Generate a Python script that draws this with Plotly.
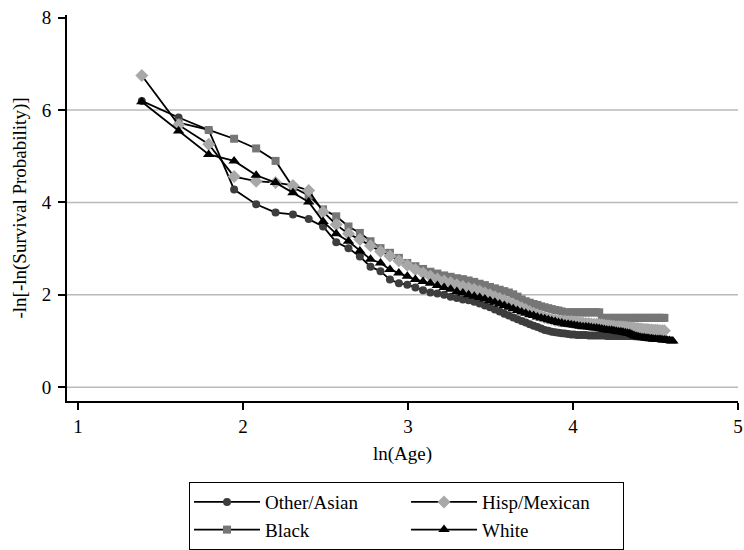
import numpy as np
import plotly.graph_objects as go

# ---------------- data ----------------
other_ages = list(range(4, 91))
other_vals = [6.20, 5.84, 5.57, 4.28, 3.96, 3.78, 3.74,
              3.64, 3.48, 3.14, 3.01, 2.83, 2.61, 2.51, 2.33, 2.25, 2.22,
              2.16, 2.10, 2.05, 2.03, 2.00, 1.96, 1.93, 1.90, 1.88, 1.85,
              1.81, 1.77, 1.73, 1.68, 1.64, 1.59, 1.55, 1.51, 1.47, 1.43,
              1.40, 1.36, 1.33, 1.30, 1.27, 1.24, 1.22, 1.20, 1.19, 1.18,
              1.17, 1.16, 1.15, 1.14, 1.14, 1.13, 1.13, 1.13, 1.13, 1.12,
              1.12, 1.12, 1.12, 1.12, 1.12, 1.12, 1.11, 1.11, 1.11, 1.11,
              1.11, 1.11, 1.11, 1.11, 1.11, 1.11, 1.11, 1.11, 1.10, 1.10,
              1.10, 1.10, 1.10, 1.10, 1.10, 1.10, 1.10, 1.10, 1.10, 1.10]

black_ages = list(range(5, 96))
black_vals = [5.73, 5.57, 5.38, 5.17, 4.90, 4.33,
              4.15, 3.85, 3.70, 3.48, 3.34, 3.16, 3.01, 2.91, 2.80, 2.69,
              2.62, 2.56, 2.50, 2.46, 2.42, 2.39, 2.36, 2.34, 2.31, 2.28,
              2.24, 2.21, 2.17, 2.14, 2.11, 2.08, 2.05, 2.01, 1.96, 1.90,
              1.86, 1.83, 1.80, 1.78, 1.75, 1.73, 1.71, 1.69, 1.67, 1.66,
              1.64, 1.62, 1.62, 1.62, 1.62, 1.62, 1.62, 1.62, 1.62, 1.62,
              1.62, 1.62, 1.62, 1.62, 1.50, 1.50, 1.50, 1.50, 1.50, 1.50,
              1.50, 1.50, 1.50, 1.50, 1.50, 1.50, 1.50, 1.50, 1.50, 1.50,
              1.50, 1.50, 1.50, 1.50, 1.50, 1.50, 1.50, 1.50, 1.50, 1.50,
              1.50, 1.50, 1.50, 1.50, 1.50]

hisp_ages = list(range(4, 96))
hisp_vals = [6.75, 5.68, 5.26, 4.56, 4.46, 4.43, 4.37,
             4.26, 3.80, 3.52, 3.32, 3.20, 3.06, 2.94, 2.84, 2.74, 2.64,
             2.55, 2.47, 2.40, 2.34, 2.30, 2.26, 2.22, 2.18, 2.15, 2.12,
             2.08, 2.04, 2.00, 1.96, 1.92, 1.88, 1.84, 1.80, 1.76, 1.72,
             1.68, 1.64, 1.60, 1.57, 1.54, 1.51, 1.49, 1.47, 1.45, 1.44,
             1.43, 1.43, 1.42, 1.42, 1.41, 1.40, 1.40, 1.39, 1.38, 1.38,
             1.37, 1.36, 1.36, 1.35, 1.35, 1.34, 1.33, 1.33, 1.32, 1.32,
             1.31, 1.31, 1.31, 1.30, 1.30, 1.29, 1.29, 1.28, 1.28, 1.27,
             1.27, 1.26, 1.26, 1.25, 1.25, 1.25, 1.24, 1.24, 1.23, 1.23,
             1.23, 1.22, 1.22, 1.22, 1.22]

white_ages = list(range(4, 101))
white_vals = [6.18, 5.55, 5.04, 4.90, 4.59, 4.43, 4.21,
              4.01, 3.59, 3.32, 3.16, 2.95, 2.77, 2.69, 2.55, 2.47, 2.40,
              2.33, 2.29, 2.25, 2.20, 2.16, 2.12, 2.07, 2.04, 2.00, 1.97,
              1.94, 1.91, 1.87, 1.84, 1.80, 1.77, 1.73, 1.70, 1.66, 1.63,
              1.60, 1.57, 1.55, 1.52, 1.50, 1.48, 1.46, 1.44, 1.42, 1.40,
              1.39, 1.37, 1.36, 1.35, 1.34, 1.33, 1.32, 1.31, 1.31, 1.30,
              1.29, 1.28, 1.28, 1.27, 1.26, 1.25, 1.24, 1.23, 1.23, 1.22,
              1.21, 1.20, 1.20, 1.19, 1.18, 1.17, 1.16, 1.14, 1.12, 1.10,
              1.09, 1.08, 1.07, 1.07, 1.06, 1.06, 1.05, 1.05, 1.04, 1.04,
              1.03, 1.03, 1.03, 1.02, 1.02, 1.02, 1.01, 1.01, 1.00, 1.00]

x_ticks = [1, 2, 3, 4, 5]
y_ticks = [0, 2, 4, 6, 8]
grid_vals = [0, 2, 4, 6]

FONT = "Liberation Serif"

series = [
    ("Other/Asian", other_ages, other_vals, "circle", "#3d3d3d", 8, "g1"),
    ("Black", black_ages, black_vals, "square", "#767676", 8, "g1"),
    ("Hisp/Mexican", hisp_ages, hisp_vals, "diamond", "#a8a8a8", 10, "g2"),
    ("White", white_ages, white_vals, "triangle-up", "#000000", 10, "g2"),
]

fig = go.Figure()
for name, ages, vals, sym, col, size, grp in series:
    fig.add_trace(go.Scatter(
        x=np.log(np.array(ages, dtype=float)), y=vals, name=name,
        mode="lines+markers", legendgroup=grp,
        line=dict(color="black", width=1.8),
        marker=dict(symbol=sym, color=col, size=size, line=dict(width=0)),
    ))

for g in grid_vals:
    fig.add_hline(y=g, line=dict(color="#b9b9b9", width=1.5), layer="below")

fig.update_layout(
    width=744, height=550,
    margin=dict(l=67, r=6, t=15, b=149, autoexpand=False),
    paper_bgcolor="white", plot_bgcolor="white",
    font=dict(family=FONT, size=19, color="black"),
    xaxis=dict(range=[0.933, 5.0], tickvals=x_ticks, ticks="outside",
               ticklen=7, tickwidth=1.5, tickcolor="black",
               ticklabeloverflow="allow", automargin=False,
               showline=True, linecolor="black", linewidth=2,
               showgrid=False, zeroline=False,
               title=dict(text="ln(Age)", standoff=11, font=dict(size=19))),
    yaxis=dict(range=[-0.30, 8.06], tickvals=y_ticks, ticks="outside",
               ticklen=7, tickwidth=1.5, tickcolor="black",
               ticklabelstandoff=3, ticklabeloverflow="allow",
               automargin=False,
               showline=True, linecolor="black", linewidth=2,
               showgrid=False, zeroline=False,
               title=dict(text="-ln[-ln(Survival Probability)]", standoff=10,
                          font=dict(size=19))),
    legend=dict(orientation="h", traceorder="grouped",
                x=0.506, y=-0.21, xanchor="center", yanchor="top",
                bordercolor="black", borderwidth=1, bgcolor="white",
                itemwidth=66, entrywidth=136,
                font=dict(family=FONT, size=19)),
)

# remove the default 8px page margin so the figure sits at the window origin
fig.write_html("out.html", post_script="document.body.style.margin='0';",
               config={"displayModeBar": False})
